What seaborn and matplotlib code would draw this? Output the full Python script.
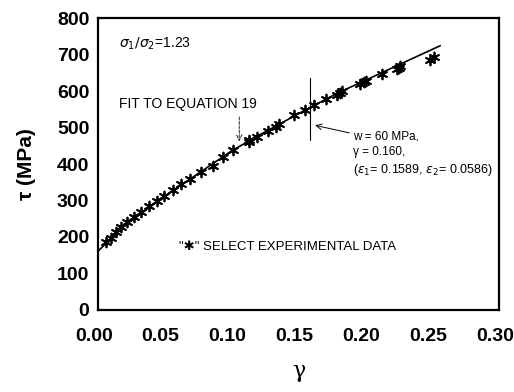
import matplotlib
matplotlib.use("Agg")
import matplotlib.pyplot as plt
import matplotlib.transforms as mtransforms
import numpy as np
import pandas as pd
import seaborn as sns

# experimental points (gamma, tau in MPa)
gamma_exp = [0.0061, 0.0099, 0.0137, 0.0177, 0.0219, 0.0274, 0.0327, 0.0384, 0.0444,
             0.0497, 0.0565, 0.0625, 0.0692, 0.0770, 0.0860, 0.0935, 0.1013, 0.1128,
             0.1133, 0.1191, 0.1276, 0.1331, 0.1358, 0.1464, 0.1549, 0.1614, 0.1709,
             0.1789, 0.1809, 0.1827, 0.1959, 0.1989, 0.2002, 0.2122, 0.2235, 0.2250,
             0.2260, 0.2485, 0.2510]
tau_exp = [185, 198, 214, 228, 241, 255, 267, 286, 299,
           312, 330, 344, 360, 379, 396, 420, 439, 460,
           466, 475, 490, 502, 510, 535, 548, 563, 579,
           589, 596, 601, 620, 626, 629, 647, 660, 665,
           670, 687, 694]

# fitted curve (equation 19)
gamma_fit = [0.0, 0.02, 0.05, 0.08, 0.10, 0.12, 0.14, 0.16, 0.18, 0.20, 0.22, 0.24, 0.256]
tau_fit = [160, 230, 312, 386, 436, 478, 518, 558, 596, 630, 664, 698, 725]

exp_df = pd.DataFrame({'gamma': gamma_exp, 'tau': tau_exp})
fit_df = pd.DataFrame({'gamma': gamma_fit, 'tau': tau_fit})

sns.set_style('white')
plt.rcParams['font.family'] = ['Liberation Sans', 'DejaVu Sans']
plt.rcParams.update({'text.color': 'black', 'axes.labelcolor': 'black',
                     'xtick.color': 'black', 'ytick.color': 'black'})

fig = plt.figure(figsize=(5.14, 3.92), dpi=100)
ax = fig.add_axes([0.190, 0.210, 0.781, 0.743])

sns.lineplot(x='gamma', y='tau', data=fit_df, color='black', linewidth=1.2, ax=ax)
sns.scatterplot(x='gamma', y='tau', data=exp_df, marker=(6, 2, 0), s=50,
                color='black', linewidth=1.3, ax=ax, zorder=3)

ax.set_xlim(0, 0.30)
ax.set_ylim(0, 800)
ax.set_xticks(np.arange(0, 0.31, 0.05))
ax.set_yticks(np.arange(0, 801, 100))
ax.set_xticklabels(['0.00', '0.05', '0.10', '0.15', '0.20', '0.25', '0.30'])
ax.tick_params(direction='in', length=5, width=1.3, labelsize=14)
ax.tick_params(axis='y', pad=6)
ax.tick_params(axis='x', pad=13)
# x labels in the original sit a little left of their ticks
shift = mtransforms.ScaledTranslation(-4 / 100, 0, fig.dpi_scale_trans)
for lab in ax.get_xticklabels():
    lab.set_transform(lab.get_transform() + shift)
for lab in ax.get_xticklabels() + ax.get_yticklabels():
    lab.set_fontweight('bold')
for sp in ax.spines.values():
    sp.set_linewidth(1.6)
    sp.set_color('black')

ax.set_xlabel('γ', fontsize=16, family='DejaVu Serif', labelpad=11)
ax.set_ylabel('τ (MPa)', fontsize=15, fontweight='bold', labelpad=15)

# annotations
ax.text(0.0156, 731, r'$\sigma_1/\sigma_2$=1.23', fontsize=10, va='center')
ax.text(0.0157, 564, 'FIT TO EQUATION 19', fontsize=10, va='center')
ax.annotate('', xy=(0.1058, 455), xytext=(0.1058, 537),
            arrowprops=dict(arrowstyle='->', color='black', lw=0.6, linestyle='--'))
ax.plot([0.1589, 0.1589], [466, 635], color='black', lw=0.8)
ax.annotate('', xy=(0.1605, 508), xytext=(0.1900, 484),
            arrowprops=dict(arrowstyle='->', color='black', lw=0.7))
ax.text(0.191, 475, 'w = 60 MPa,', fontsize=8.5, va='center')
ax.text(0.191, 434, 'γ = 0.160,', fontsize=8.5, va='center')
ax.text(0.191, 385, r'($\epsilon_1$= 0.1589, $\epsilon_2$= 0.0586)', fontsize=9, va='center')
ax.text(0.0607, 173, '"✱" SELECT EXPERIMENTAL DATA', fontsize=9.5, va='center',
        family=['Liberation Sans', 'DejaVu Sans'])

fig.savefig('out.png', dpi=100)
